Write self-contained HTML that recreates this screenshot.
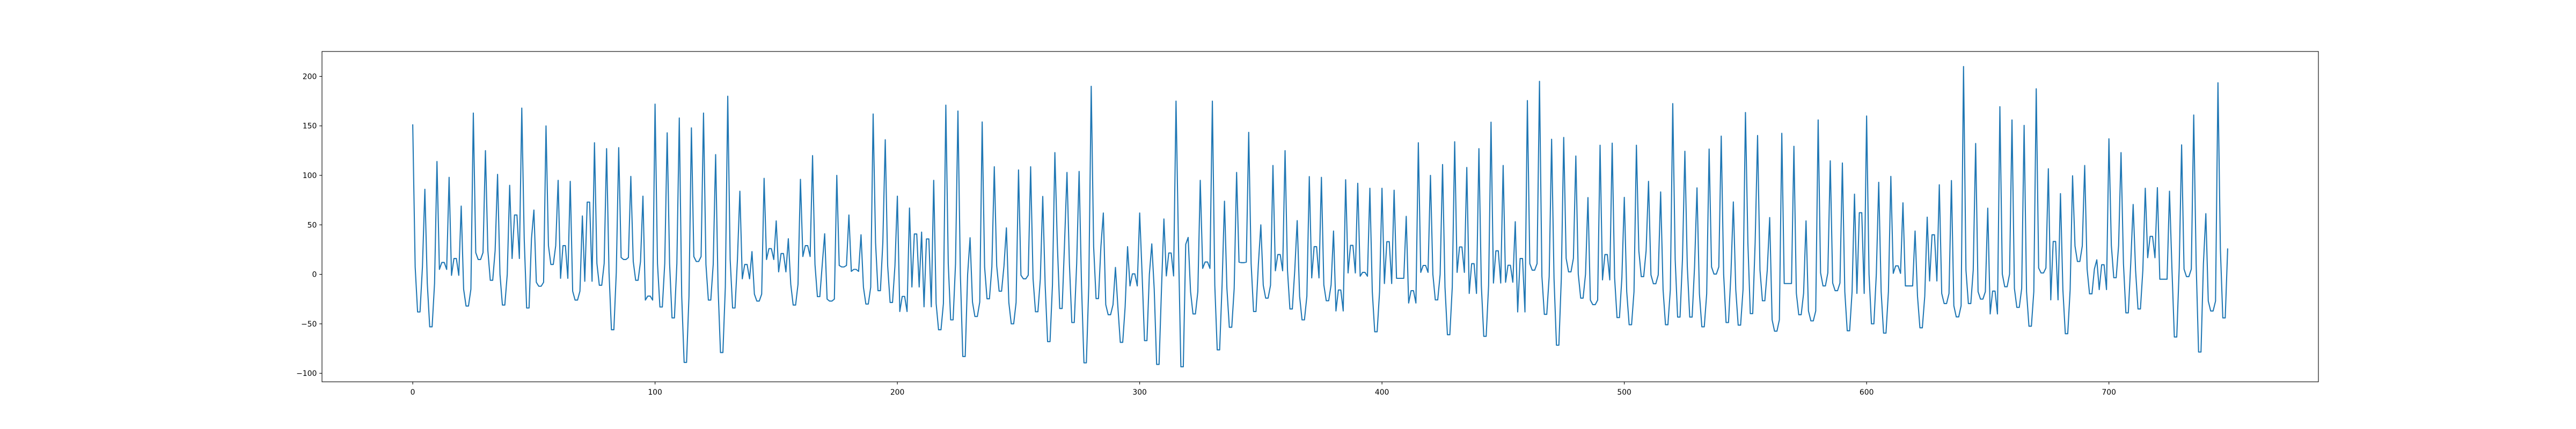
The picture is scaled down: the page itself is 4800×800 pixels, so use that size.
<!DOCTYPE html>
<html><head><meta charset="utf-8"><style>html,body{margin:0;padding:0;background:#fff}svg{display:block}</style></head>
<body>
<svg id="chart" width="4800" height="800" xmlns="http://www.w3.org/2000/svg" font-family="DejaVu Sans, Liberation Sans, sans-serif" font-size="13.9">
<rect x="0" y="0" width="4800" height="800" fill="#fff"/>
<g id="plot"></g>
</svg>
<script>
// Each group of 5 points follows: peak, a, b, b, a
const peakValues = [151,86,114,98,69,163,125,101,90,168,65,150,95,94,59,133,127,128,99,79,172,143,158,148,163,121,180,84,23,97,54,36,96,120,41,100,60,40,162,136,79,67,42.7,95,171,165,37,154,108.7,47,105.5,108.7,78.7,123,103,104,190,62,7,28,62,30.8,56,175,37.3,95,175,73.9,103,143.5,50,110,125,54.3,98.8,98,43.8,95.6,92,87,87,85,58.6,133,100,111,134,108,127,153.8,110,53.2,175.6,195,136.5,138.3,119.6,77.6,130.5,132.6,77.8,130.5,94,83.3,172.5,124.4,87.4,126.6,139.7,73.2,163.5,140.3,57.4,142.5,129.4,54,156,114.7,112.5,81,160,93,99,72.3,43.8,57.8,90.5,94.8,210,132.2,66.9,169.4,156,150.5,187.5,106.7,81.6,99.6,110,14.7,137,123,70.6,87,87.6,84,130.8,161,61.3,193.6];
const shoulderValues = [7.5,-9,5,-1,-15,22,24,0,16,36,-8,29,-4,-17,-7,11,2,17,13,-26,11,11,-22,18,10,-13,15,-4.5,-20,15,2.5,-10,18,10,-25,9,3,-13,32,8.6,-37.6,-12.8,-32.8,-29.5,10.8,0,-28,7.5,8.6,-28.4,-0.9,-4.5,-11,32,10.8,-11,28,-30.6,-32.8,-11.7,0,-15,-1.6,30.3,-17.5,6,-11,-14.3,12.3,10.8,-11,3.6,4,-22,-3.6,-10.6,-37,1.4,-1.9,-17.5,-9.3,-4,-29,2,0,-13,2,-19.3,-11,-8.8,-8,-38,10.8,-2,-4.5,16.2,0.3,-26,-5.6,-3.4,-17.5,23.8,-0.6,-15.4,15,8,-19.7,7.5,0,-15.4,32,4.2,-45.9,-9.3,-19,-37,1.6,-8.8,-17.5,-19.3,0,-17.5,1,-11.7,-22,-6.7,-19.3,-31.7,4.2,-17.5,-40,0.3,-14.3,-17.5,6.4,-25.8,-15.4,28.6,5.3,-15.4,29.3,10.8,4.2,16.8,-4.9,6.4,5.3,10.8,-27,25.6];
const troughValues = [-38,-53,12,16,-32,15,-6,-31,60,-34,-12,10,29,-26,73,-11,-56,15,-6,-22,-33,-44,-89,13,-26,-79,-34,10,-27,26,21,-31,29,-22.5,-27,7.5,5,-30,-16.5,-28.4,-22.3,40.8,35.8,-56,-46,-83,-42.6,-24.7,-17,-50,-4.5,-37.8,-68,-34.5,-48.7,-89.4,-24.5,-40.8,-68.7,0.5,-67,-91,21.6,-93.4,-40,12.5,-76.3,-53.5,11.8,-37.6,-24,20,-35,-46,28,-26.7,-15.8,29.3,2,-58,33,-4,-16.5,9,-25.8,-61,27.7,10.8,-62.6,23.8,9.2,16,4.2,-40.4,-71.6,2.5,-24,-30.6,20,-43.7,-50.9,-2.3,-9.5,-50.9,-43.2,-43.2,-53,0.3,-48.7,-51.3,-39.7,-26.7,-57.4,-9.3,-40.8,-47,-11.7,-16.5,-57,62.3,-50,-59.4,8.6,-11.7,-54,40,-29.5,-43,-29.5,-25,-16.9,-12.5,-33.4,-52.4,1.4,33.2,-60,13,-19.7,9.7,-3.4,-38.9,-35,38.4,-4.9,-63.3,-2.3,-78.5,-37,-44];
const xTickValues = [0,100,200,300,400,500,600,700];
const yTickValues = [-100,-50,0,50,100,150,200];

const NS = 'http://www.w3.org/2000/svg';
const L = 600, R = 4320, T = 96, B = 712;
const series = [];
for (let k = 0; k < peakValues.length; k++) {
  series.push(peakValues[k], shoulderValues[k], troughValues[k], troughValues[k], shoulderValues[k]);
}
const n = series.length;
const xMin = -(n - 1) * 0.05, xMax = (n - 1) * 1.05;
const dMin = Math.min(...series), dMax = Math.max(...series);
const yMin = dMin - 0.05 * (dMax - dMin), yMax = dMax + 0.05 * (dMax - dMin);
const xs = v => L + (v - xMin) / (xMax - xMin) * (R - L);
const ys = v => B - (v - yMin) / (yMax - yMin) * (B - T);
const g = document.getElementById('plot');
function mk(tag, attrs) { const e = document.createElementNS(NS, tag); for (const k in attrs) e.setAttribute(k, attrs[k]); g.appendChild(e); return e; }

let d = '';
series.forEach((v, i) => { d += (i ? 'L' : 'M') + xs(i).toFixed(2) + ' ' + ys(v).toFixed(2); });
const line = mk('path', {d: d, fill: 'none', stroke: '#1f77b4', 'stroke-width': 2.08, 'stroke-linejoin': 'round', 'stroke-linecap': 'square'});



const frame = mk('rect', {x: L, y: T, width: R - L, height: B - T, fill: 'none', stroke: '#000', 'stroke-width': 1.1});



xTickValues.forEach(t => {
  const x = xs(t);
  const tk = mk('line', {x1: x, x2: x, y1: B, y2: B + 4.86, stroke: '#000', 'stroke-width': 1.1});
  
  
  const lb = mk('text', {x: x, y: B + 24, 'text-anchor': 'middle', fill: '#000'});
  lb.textContent = String(t);
  
  
});
yTickValues.forEach(t => {
  const y = ys(t);
  const tk = mk('line', {x1: L - 4.86, x2: L, y1: y, y2: y, stroke: '#000', 'stroke-width': 1.1});
  
  
  const lb = mk('text', {x: L - 9.7, y: y + 5, 'text-anchor': 'end', fill: '#000'});
  lb.textContent = t < 0 ? '\u2212' + Math.abs(t) : String(t);
  
  
});
</script>
</body></html>
